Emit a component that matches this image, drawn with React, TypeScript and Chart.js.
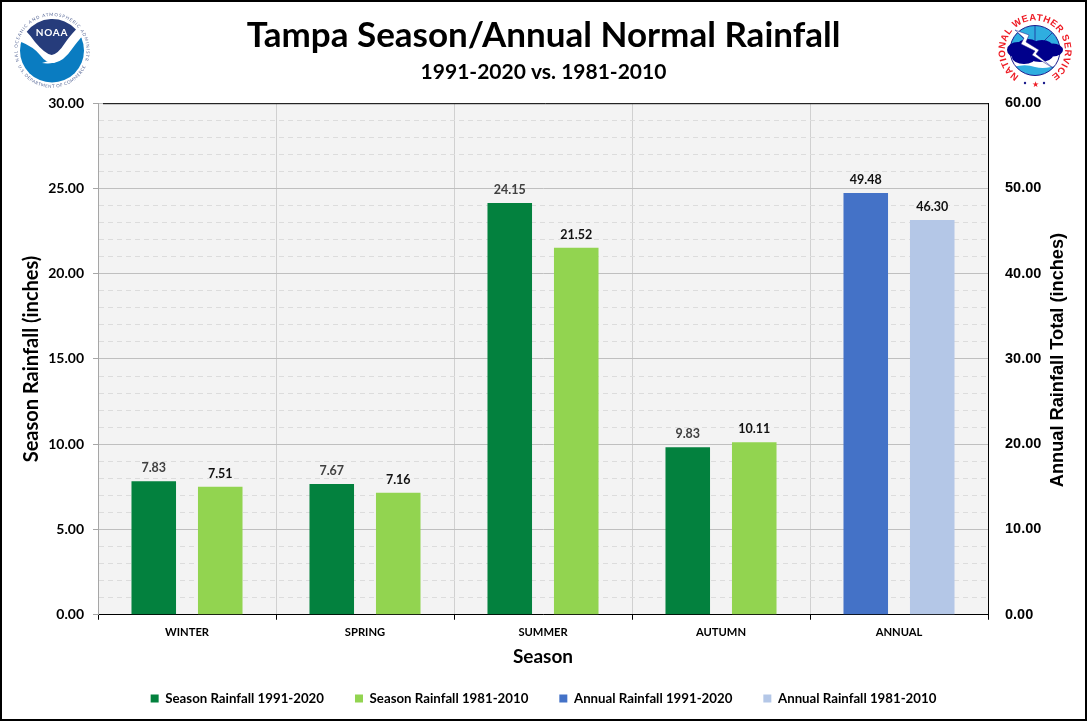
import { useEffect, useRef } from "react";
import { Chart, registerables } from "chart.js";

Chart.register(...registerables);

const FONT = "Lato, 'Open Sans', sans-serif";
const RIGHT_FONT = "'Liberation Sans', Arial, sans-serif";

const seasons = ["WINTER", "SPRING", "SUMMER", "AUTUMN", "ANNUAL"];
const season9120 = [7.83, 7.67, 24.15, 9.83, null];
const season8110 = [7.51, 7.16, 21.52, 10.11, null];
const annual9120 = [null, null, null, null, 49.48];
const annual8110 = [null, null, null, null, 46.3];

// grey labels on the 1991-2020 seasons, black everywhere else
const labelColors = ["#404040", "#111111", "#111111", "#111111"];

// plot background, top edge, value labels and the two titles the scales can't place
const chartExtras = {
  id: "chartExtras",
  beforeDraw(chart: any) {
    const { ctx, chartArea: a } = chart;
    ctx.save();
    ctx.fillStyle = "#f3f3f3";
    ctx.fillRect(a.left, a.top, a.right - a.left, a.bottom - a.top);
    ctx.restore();
  },
  afterDraw(chart: any) {
    const { ctx, chartArea: a } = chart;
    ctx.save();
    ctx.strokeStyle = "#000000";
    ctx.lineWidth = 1;
    ctx.beginPath();
    ctx.moveTo(a.left + 5, a.top + 0.5);
    ctx.lineTo(a.right, a.top + 0.5);
    ctx.stroke();

    ctx.font = `bold 12.5px ${FONT}`;
    ctx.textAlign = "center";
    chart.data.datasets.forEach((ds: any, i: number) => {
      chart.getDatasetMeta(i).data.forEach((bar: any, j: number) => {
        if (ds.data[j] == null) return;
        ctx.fillStyle = labelColors[i];
        ctx.fillText(ds.data[j].toFixed(2), bar.x, bar.y - 13);
      });
    });

    ctx.fillStyle = "#000000";
    ctx.textBaseline = "middle";
    ctx.font = `bold 19px ${FONT}`;
    ctx.fillText("Season", (a.left + a.right) / 2, 655);

    ctx.font = `bold 18.2px ${RIGHT_FONT}`;
    ctx.translate(1056, 358);
    ctx.rotate(-Math.PI / 2);
    ctx.fillText("Annual Rainfall Total (inches)", 0, 0);
    ctx.restore();
  },
};

function NoaaLogo() {
  return (
    <svg width="76" height="76" viewBox="0 0 76 76" overflow="visible" style={{ position: "absolute", left: 14, top: 13 }}>
      <defs>
        <path id="noaaTop" d="M 5.5 49 A 34.5 34.5 0 1 1 70.5 49" />
        <path id="noaaBottom" d="M 4 53 A 37.4 37.4 0 0 0 72 53" />
      </defs>
      <circle cx="38" cy="37.5" r="32" fill="#0a7cc1" />
      <path d="M 5 28 Q 20 34 26 42 Q 33 51 40 50 Q 50 48 58 36 Q 63 29 71 20 L 71 3 L 5 3 Z" fill="#ffffff" />
      <path d="M 12.7 18.7 A 32 32 0 0 1 62 16.5 Q 55 24 51 30 Q 44 41 37.7 42 Q 31 41 21 29 Q 17 23 12.7 18.7 Z" fill="#263c7b" />
      <path d="M 28 50 Q 38 47 51 43 L 46 47 Q 38 51 33 50.5 Z" fill="#ffffff" />
      <text x="38" y="23" textAnchor="middle" fontFamily="Lato, sans-serif" fontWeight="700" fontSize="10" letterSpacing="0.8" fill="#ffffff">NOAA</text>
      <text fontFamily="Lato, sans-serif" fontSize="4.4" letterSpacing="0.9" fill="#5a6a98">
        <textPath href="#noaaTop" startOffset="50%" textAnchor="middle">NATIONAL OCEANIC AND ATMOSPHERIC ADMINISTRATION</textPath>
      </text>
      <text fontFamily="Lato, sans-serif" fontSize="4.4" letterSpacing="0.5" fill="#5a6a98">
        <textPath href="#noaaBottom" startOffset="50%" textAnchor="middle">U.S. DEPARTMENT OF COMMERCE</textPath>
      </text>
    </svg>
  );
}

function NwsLogo() {
  return (
    <svg width="80" height="76" viewBox="0 0 80 76" overflow="visible" style={{ position: "absolute", left: 994, top: 12 }}>
      <defs>
        <path id="nwsArc" d="M 28.3 65.7 A 30 30 0 1 1 53.7 65.7" />
        <clipPath id="nwsDisc">
          <circle cx="41" cy="38.5" r="25" />
        </clipPath>
      </defs>
      <circle cx="41" cy="38.5" r="25" fill="#ffffff" />
      <g clipPath="url(#nwsDisc)">
        <rect x="16" y="13" width="50" height="27" fill="#2faee0" />
        <path d="M 16 56 Q 30 51 41 55 Q 52 58 66 52 L 66 64 L 16 64 Z" fill="#2faee0" />
        <path d="M 41 13 L 41 30 M 24 21 L 33 30 M 58 21 L 49 30" stroke="#1a1a8c" strokeWidth="0.7" />
      </g>
      <circle cx="41" cy="38.5" r="25" fill="none" stroke="#1a1a8c" strokeWidth="1" />
      <g fill="#00008b">
        <ellipse cx="24" cy="38" rx="11" ry="8" />
        <ellipse cx="34" cy="34" rx="11" ry="7" />
        <ellipse cx="48" cy="35" rx="11" ry="7" />
        <ellipse cx="59" cy="38" rx="10" ry="6.5" />
        <ellipse cx="30" cy="45" rx="12" ry="7" />
        <ellipse cx="46" cy="43" rx="13" ry="7" />
      </g>
      <path d="M 21 18 L 35 23 L 32 30 L 45 38 L 42 42 L 59 56 L 38 43 L 41 39 L 27 32 L 30 26 Z" fill="#ffffff" stroke="#1a1a8c" strokeWidth="0.5" />
      <text fontFamily="'Liberation Sans', sans-serif" fontWeight="700" fontSize="9.5" letterSpacing="0.5" fill="#ee1c25">
        <textPath href="#nwsArc" startOffset="50%" textAnchor="middle">NATIONAL WEATHER SERVICE</textPath>
      </text>
      <text x="41" y="75" textAnchor="middle" fontSize="8" fill="#ee1c25">★</text>
      <circle cx="31" cy="71" r="1.2" fill="#1a1a8c" />
      <circle cx="50" cy="71" r="1.2" fill="#1a1a8c" />
    </svg>
  );
}

export default function App() {
  const canvasRef = useRef<HTMLCanvasElement>(null);

  useEffect(() => {
    document.body.style.margin = "0";
    if (!canvasRef.current) return;

    const isMajor = (ctx: any) => ctx.tick && ctx.tick.value % 5 === 0;

    const chart = new Chart(canvasRef.current, {
      type: "bar",
      data: {
        labels: seasons,
        datasets: [
          { label: "Season Rainfall 1991-2020", data: season9120, backgroundColor: "#03813e", yAxisID: "y" },
          { label: "Season Rainfall 1981-2010", data: season8110, backgroundColor: "#92d450", yAxisID: "y" },
          { label: "Annual Rainfall 1991-2020", data: annual9120, backgroundColor: "#4472c7", yAxisID: "y2" },
          { label: "Annual Rainfall 1981-2010", data: annual8110, backgroundColor: "#b4c7e7", yAxisID: "y2" },
        ],
      },
      options: {
        responsive: false,
        animation: false,
        devicePixelRatio: 1,
        layout: { padding: { top: 0, bottom: 4 } },
        datasets: {
          bar: { skipNull: true, categoryPercentage: 0.747, barPercentage: 0.67 },
        },
        plugins: {
          tooltip: { enabled: false },
          title: {
            display: true,
            text: "Tampa Season/Annual Normal Rainfall",
            color: "#000000",
            font: { family: FONT, size: 35, weight: "bold" },
            padding: { top: 13, bottom: 0 },
          },
          subtitle: {
            display: true,
            text: "1991-2020 vs. 1981-2010",
            color: "#000000",
            font: { family: FONT, size: 21, weight: "bold" },
            padding: { top: 3, bottom: 18 },
          },
          legend: {
            position: "bottom",
            labels: {
              color: "#000000",
              boxWidth: 8,
              boxHeight: 8,
              padding: 31,
              font: { family: FONT, size: 13.25, weight: "bold" },
            },
          },
        },
        scales: {
          x: {
            offset: true,
            grid: { color: "#d0d0d0", tickColor: "#000000", tickLength: 5, offset: true },
            border: { color: "#000000" },
            ticks: {
              color: "#000000",
              font: { family: FONT, size: 11.2, weight: "bold" },
              padding: 6,
              maxRotation: 0,
            },
            afterFit: (scale: any) => {
              scale.height = 46;
            },
          },
          y: {
            position: "left",
            min: 0,
            max: 30,
            title: {
              display: true,
              text: "Season Rainfall (inches)",
              color: "#000000",
              font: { family: FONT, size: 20, weight: "bold" },
              padding: { top: 18, bottom: 0 },
            },
            grid: {
              color: (ctx: any) => (isMajor(ctx) ? "#bfbfbf" : "#dcdcdc"),
              tickColor: (ctx: any) => (isMajor(ctx) ? "#a6a6a6" : "transparent"),
              tickLength: 5,
            },
            border: {
              color: "#a6a6a6",
              dash: (ctx: any) => (isMajor(ctx) ? [] : [5, 4]),
            },
            ticks: {
              stepSize: 1,
              autoSkip: false,
              color: "#000000",
              font: { family: FONT, size: 14, weight: "bold" },
              padding: 9,
              callback: (v: any) => (Number(v) % 5 === 0 ? Number(v).toFixed(2) : ""),
            },
            afterFit: (scale: any) => {
              scale.width = 96;
            },
          },
          y2: {
            position: "right",
            min: 0,
            max: 60,
            grid: { drawOnChartArea: false, drawTicks: false },
            border: { color: "#000000" },
            ticks: {
              stepSize: 10,
              color: "#000000",
              font: { family: RIGHT_FONT, size: 14.5, weight: "bold" },
              padding: 17,
              callback: (v: any) => Number(v).toFixed(2),
            },
            afterFit: (scale: any) => {
              scale.width = 97;
            },
          },
        },
      },
      plugins: [chartExtras],
    } as any);

    return () => {
      chart.destroy();
    };
  }, []);

  return (
    <div
      style={{
        position: "relative",
        width: 1087,
        height: 721,
        boxSizing: "border-box",
        border: "2px solid #000000",
        background: "#ffffff",
        overflow: "hidden",
      }}
    >
      <canvas ref={canvasRef} width={1083} height={717} style={{ display: "block" }} />
      <div style={{ position: "absolute", left: -2, top: -2 }}>
        <NoaaLogo />
        <NwsLogo />
      </div>
    </div>
  );
}
